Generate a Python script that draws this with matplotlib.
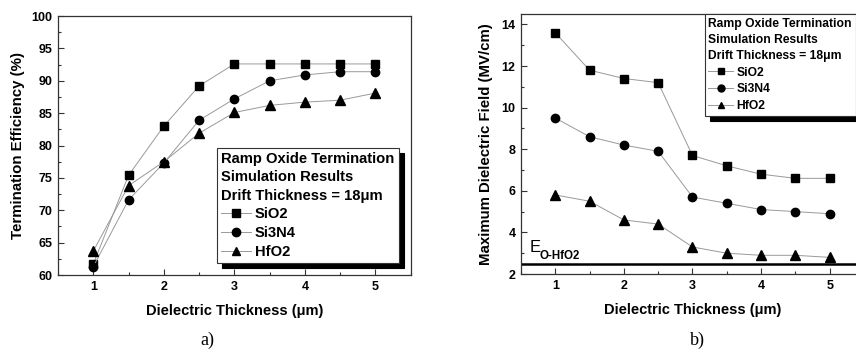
#Ramp oxide termination simulation results
import matplotlib
matplotlib.use('Agg')
import matplotlib.pyplot as plt
from matplotlib.ticker import MultipleLocator

plt.rcParams['font.family'] = ['Liberation Sans', 'DejaVu Sans']
plt.rcParams['font.weight'] = 'bold'

thickness = [1, 1.5, 2, 2.5, 3, 3.5, 4, 4.5, 5]

# a) termination efficiency (%)
eff_sio2 = [61.7, 75.4, 83.0, 89.2, 92.6, 92.6, 92.6, 92.6, 92.6]
eff_si3n4 = [61.3, 71.6, 77.3, 83.9, 87.2, 90.0, 90.9, 91.4, 91.4]
eff_hfo2 = [63.7, 73.8, 77.5, 81.9, 85.1, 86.2, 86.7, 87.0, 88.1]

# b) maximum dielectric field (MV/cm)
field_sio2 = [13.6, 11.8, 11.4, 11.2, 7.7, 7.2, 6.8, 6.6, 6.6]
field_si3n4 = [9.5, 8.6, 8.2, 7.9, 5.7, 5.4, 5.1, 5.0, 4.9]
field_hfo2 = [5.8, 5.5, 4.6, 4.4, 3.3, 3.0, 2.9, 2.9, 2.8]
e_crit_hfo2 = 2.5

materials = ['SiO2', 'Si3N4', 'HfO2']
markers = ['s', 'o', '^']
legend_title = 'Ramp Oxide Termination\nSimulation Results\nDrift Thickness = 18\u03bcm'

fig = plt.figure(figsize=(8.56, 3.56), dpi=100)
ax1 = fig.add_axes([0.0678, 0.2275, 0.412, 0.7275])
ax2 = fig.add_axes([0.6086, 0.2303, 0.4007, 0.7303])


def draw_series(ax, series):
    for vals, name, mk in zip(series, materials, markers):
        ax.plot(thickness, vals, color='#999999', linewidth=0.7, marker=mk,
                markersize=6 if mk != '^' else 6.5, markerfacecolor='black',
                markeredgecolor='black', label=name)


def style_axes(ax):
    ax.set_xlim(0.5, 5.5)
    ax.xaxis.set_major_locator(MultipleLocator(1))
    ax.xaxis.set_minor_locator(MultipleLocator(0.5))
    ax.tick_params(which='both', direction='in', top=False, right=False,
                   labelsize=9, width=0.8, color='#333333')
    ax.tick_params(which='major', length=4, pad=4)
    ax.tick_params(which='minor', length=2)
    for lbl in ax.get_xticklabels() + ax.get_yticklabels():
        lbl.set_fontweight('bold')
    for sp in ax.spines.values():
        sp.set_color('#333333')
        sp.set_linewidth(0.9)
    ax.set_xlabel('Dielectric Thickness (\u03bcm)', fontsize=10.5, fontweight='bold', labelpad=8)


def add_legend(ax, anchor, loc, size, msize, spacing, linesp):
    leg = ax.legend(title=legend_title, loc=loc, bbox_to_anchor=anchor,
                    fontsize=size, title_fontsize=size, frameon=True, fancybox=False,
                    shadow={'ox': 3.5, 'oy': -3.5, 'color': 'black', 'alpha': 1},
                    handlelength=2.0, handletextpad=0.3, labelspacing=spacing,
                    borderpad=0.3, alignment='left', borderaxespad=0)
    for h in leg.legend_handles:
        h.set_markersize(msize)
    leg.get_frame().set_edgecolor('#333333')
    leg.get_frame().set_linewidth(0.8)
    leg.get_title().set_fontweight('bold')
    leg.get_title().set_linespacing(linesp)
    return leg


# a)
draw_series(ax1, [eff_sio2, eff_si3n4, eff_hfo2])
style_axes(ax1)
ax1.set_ylim(60, 100)
ax1.yaxis.set_major_locator(MultipleLocator(5))
ax1.yaxis.set_minor_locator(MultipleLocator(2.5))
ax1.set_ylabel('Termination Efficiency (%)', fontsize=10.8, fontweight='bold', labelpad=5)
add_legend(ax1, (0.45, 0.046), 'lower left', 10.6, 6, 0.32, 1.38)

# b)
draw_series(ax2, [field_sio2, field_si3n4, field_hfo2])
style_axes(ax2)
ax2.set_ylim(2, 14.5)
ax2.yaxis.set_major_locator(MultipleLocator(2))
ax2.yaxis.set_minor_locator(MultipleLocator(1))
ax2.set_ylabel('Maximum Dielectric Field (MV/cm)', fontsize=10.8, fontweight='bold', labelpad=6)
ax2.axhline(e_crit_hfo2, color='black', linewidth=1.8)
ax2.text(0.63, 3.05, 'E', fontsize=12, fontweight='normal', ha='left', va='baseline')
ax2.text(0.77, 2.72, 'O-HfO2', fontsize=8.3, fontweight='bold', ha='left', va='baseline')
add_legend(ax2, (0.536, 1.0), 'upper left', 8.7, 5, 0.4, 1.45)

fig.text(0.242, 0.03, 'a)', fontsize=13, family='Liberation Serif', fontweight='normal', ha='center')
fig.text(0.815, 0.03, 'b)', fontsize=13, family='Liberation Serif', fontweight='normal', ha='center')

fig.savefig('out.png', dpi=100, facecolor='white')
